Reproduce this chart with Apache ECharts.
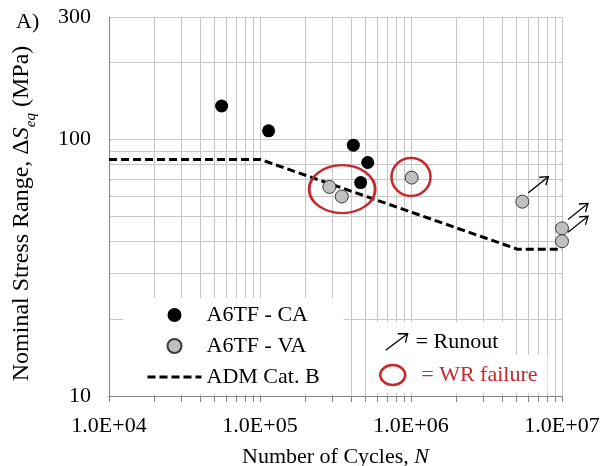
<!DOCTYPE html>
<html>
<head>
<meta charset="utf-8">
<script src="https://cdn.jsdelivr.net/npm/echarts@6/dist/echarts.min.js"></script>
<style>
html,body{margin:0;padding:0;background:#fff;}
#chart{width:604px;height:466px;}
</style>
</head>
<body>
<div id="chart"></div>
<script>
// ---- data ----
const caCycles = [5.57e4, 1.14e5, 4.15e5, 5.17e5, 4.64e5];
const caStress = [135, 108, 95, 81.3, 67.9];
const vaCycles = [2.88e5, 3.48e5, 1.01e6, 5.46e6, 1.0e7, 1.0e7];
const vaStress = [65.3, 59.9, 71, 57.2, 45, 40.1];
const runoutIndex = [3, 4, 5];           // VA specimens that ran out
const wrCycles = [3.5e5, 1.0e6];         // WR failure groups (ellipse centres)
const wrStress = [64, 71.4];
const admCycles = [1e4, 1e5, 5.1e6, 1e7];
const admStress = [83.6, 83.6, 37.3, 37.3];
const xTickValues = [1e4, 1e5, 1e6, 1e7];
const xTickLabels = ['1.0E+04', '1.0E+05', '1.0E+06', '1.0E+07'];
const yTickValues = [10, 100, 300];
const yTickLabels = ['10', '100', '300'];

// ---- styles ----
const FONT = "'Liberation Serif','Times New Roman',serif";
const RED = '#c8282d';
const GRID = '#c6c6c6';
const AXIS = '#858585';
const ELLIPSE_SIZES = [[66, 48], [39, 38]];
const ARROW = { start: [6, -9], end: [26, -25], barbA: [-9, 0.6], barbB: [-2.5, 8.6] };
const ADM_LINE = { color: '#000', width: 3, type: [8, 4] };

function minorValues(lo, hi) {
  const out = [];
  for (let d = lo; d < hi; d *= 10) for (let k = 1; k < 10; k++) out.push(d * k);
  out.push(hi);
  return out;
}
function labelFor(values, labels) {
  return v => {
    const i = values.findIndex(t => Math.abs(Math.log10(t / v)) < 1e-6);
    return i >= 0 ? labels[i] : '';
  };
}
const zip = (a, b) => a.map((v, i) => [v, b[i]]);

const chart = echarts.init(document.getElementById('chart'), null, { renderer: 'canvas' });
chart.setOption({
  animation: false,
  backgroundColor: '#fff',
  title: {
    text: 'A)', left: 11, top: 6,
    textStyle: { fontFamily: FONT, fontSize: 22, fontWeight: 'normal', color: '#000' }
  },
  grid: { left: 109, right: 42, top: 17, bottom: 70, containLabel: false, outerBoundsMode: 'none' },
  xAxis: {
    type: 'log', logBase: 10, min: 1e4, max: 1e7,
    name: '{n|Number of Cycles, }{i|N}',
    nameLocation: 'middle', nameGap: 50,
    nameTextStyle: {
      rich: {
        n: { fontFamily: FONT, fontSize: 22, color: '#000' },
        i: { fontFamily: FONT, fontSize: 22, fontStyle: 'italic', color: '#000' }
      }
    },
    axisLine: { lineStyle: { color: AXIS, width: 1 } },
    axisTick: { show: true, length: 6, customValues: minorValues(1e4, 1e7), lineStyle: { color: AXIS } },
    axisLabel: {
      customValues: xTickValues, formatter: labelFor(xTickValues, xTickLabels),
      margin: 19, fontFamily: FONT, fontSize: 22, color: '#000'
    },
    splitLine: { show: true, lineStyle: { color: GRID, width: 1 } },
    minorTick: { show: false }, minorSplitLine: { show: false }
  },
  yAxis: {
    type: 'log', logBase: 10, min: 10, max: 300,
    name: '{n|Nominal Stress Range, Δ}{i|S}{sub|eq}{n| (MPa)}',
    nameLocation: 'middle', nameGap: 70, nameRotate: 90,
    nameTextStyle: {
      padding: [0, 14, 0, 0],
      rich: {
        n: { fontFamily: FONT, fontSize: 24, color: '#000', lineHeight: 34 },
        i: { fontFamily: FONT, fontSize: 24, fontStyle: 'italic', color: '#000', lineHeight: 34 },
        sub: { fontFamily: FONT, fontSize: 15, fontStyle: 'italic', color: '#000', lineHeight: 15, verticalAlign: 'bottom' }
      }
    },
    axisLine: { show: true, lineStyle: { color: AXIS, width: 1 } },
    axisTick: { show: false, customValues: minorValues(10, 100).concat([200, 300]) },
    axisLabel: {
      customValues: yTickValues, formatter: labelFor(yTickValues, yTickLabels),
      margin: 18, fontFamily: FONT, fontSize: 22, color: '#000'
    },
    splitLine: { show: true, lineStyle: { color: GRID, width: 1 } },
    minorTick: { show: false }, minorSplitLine: { show: false }
  },
  legend: [
    {
      data: [
        { name: 'A6TF - CA', icon: 'circle' },
        { name: 'A6TF - VA', icon: 'circle' },
        { name: 'ADM Cat. B', itemStyle: { opacity: 0 }, lineStyle: ADM_LINE }
      ],
      orient: 'vertical', left: 123, top: 298,
      padding: [5, 24, 5, 23],
      itemWidth: 54, itemHeight: 14, itemGap: 7,
      backgroundColor: '#fff', selectedMode: false,
      textStyle: { fontFamily: FONT, fontSize: 22, color: '#000', lineHeight: 24 }
    },
    {
      data: [{
        name: '= Runout',
        icon: 'path://M1,16 L21,1 M12,1 L21,1 L19,9',
        itemStyle: { color: 'transparent', borderColor: '#000', borderWidth: 1.3 }
      }],
      orient: 'vertical', left: 370, top: 322,
      padding: [8, 12, 1, 15],
      itemWidth: 22, itemHeight: 17,
      backgroundColor: '#fff', selectedMode: false,
      textStyle: { fontFamily: FONT, fontSize: 22, color: '#000', lineHeight: 24, padding: [0, 0, 0, 3] }
    },
    {
      data: [{
        name: '= WR failure',
        icon: 'path://M0,10 A12.5,10 0 1,0 25,10 A12.5,10 0 1,0 0,10 Z',
        itemStyle: { color: 'transparent', borderColor: RED, borderWidth: 2.5, opacity: 1 },
        textStyle: { color: RED }
      }],
      orient: 'vertical', left: 370, top: 355,
      padding: [8, 10, 6, 9],
      itemWidth: 25, itemHeight: 20,
      backgroundColor: '#fff', selectedMode: false,
      textStyle: { fontFamily: FONT, fontSize: 22, color: RED, lineHeight: 24, padding: [0, 0, 0, 11] }
    }
  ],
  series: [
    {
      name: 'ADM Cat. B', type: 'line', data: zip(admCycles, admStress),
      symbol: 'none', showSymbol: false, silent: true,
      itemStyle: { color: '#000' },
      lineStyle: ADM_LINE,
      z: 2
    },
    {
      name: '= WR failure', type: 'scatter', data: zip(wrCycles, wrStress),
      symbol: 'circle',
      symbolSize: (v, p) => ELLIPSE_SIZES[p.dataIndex],
      itemStyle: { color: 'transparent', borderColor: RED, borderWidth: 2.5, opacity: 1 },
      silent: true, z: 3
    },
    {
      name: 'A6TF - VA', type: 'scatter', data: zip(vaCycles, vaStress),
      symbol: 'circle', symbolSize: 13,
      itemStyle: { color: '#c0c0c0', borderColor: '#3a3a3a', borderWidth: 1, opacity: 1 },
      z: 4
    },
    {
      name: 'A6TF - CA', type: 'scatter', data: zip(caCycles, caStress),
      symbol: 'circle', symbolSize: 13,
      itemStyle: { color: '#000', opacity: 1 },
      z: 4
    },
    {
      name: '= Runout', type: 'custom', clip: false, silent: true, z: 5,
      itemStyle: { color: '#000' },
      data: runoutIndex.map(i => [vaCycles[i], vaStress[i]]),
      renderItem: (params, api) => {
        const p = api.coord([api.value(0), api.value(1)]);
        const s = [p[0] + ARROW.start[0], p[1] + ARROW.start[1]];
        const t = [p[0] + ARROW.end[0], p[1] + ARROW.end[1]];
        return {
          type: 'group',
          children: [
            { type: 'line', shape: { x1: s[0], y1: s[1], x2: t[0], y2: t[1] },
              style: { stroke: '#000', lineWidth: 1.3 } },
            { type: 'polyline',
              shape: { points: [[t[0] + ARROW.barbA[0], t[1] + ARROW.barbA[1]], t, [t[0] + ARROW.barbB[0], t[1] + ARROW.barbB[1]]] },
              style: { stroke: '#000', fill: 'none', lineWidth: 1.3 } }
          ]
        };
      }
    }
  ]
});
</script>
</body>
</html>
